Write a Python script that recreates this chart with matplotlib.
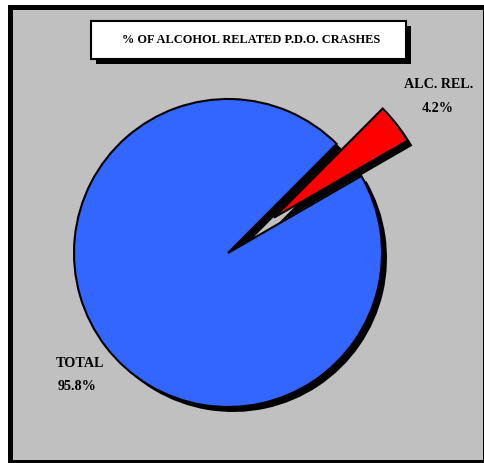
import matplotlib
matplotlib.use("Agg")
import matplotlib.pyplot as plt
from matplotlib.patches import Rectangle

# data
labels = ["ALC. REL.", "TOTAL"]
values = [4.2, 95.8]
colors = ["#ff0000", "#3366ff"]
title = "% OF ALCOHOL RELATED P.D.O. CRASHES"

W, H = 484, 463
plt.rcParams['font.family'] = ['Liberation Serif', 'DejaVu Serif']

fig = plt.figure(figsize=(W / 100, H / 100), dpi=100)
fig.patch.set_facecolor("white")
ax = fig.add_axes([0, 0, 1, 1])

# panel with black frame
ax.add_patch(Rectangle((8, 0), W - 8, H - 5, facecolor="black", edgecolor="none", zorder=0))
ax.add_patch(Rectangle((12.7, 3.3), W - 12.7 - 1.5, H - 10 - 3.3, facecolor="#c0c0c0",
                       edgecolor="none", zorder=1))

# pie, with a black copy as shadow
cx, cy, r = 228, H - 253, 154
off = 5
expl = [58, 0]
ax.pie(values, colors=["black", "black"], startangle=30, counterclock=True,
       explode=expl, radius=r, center=(cx + off, cy - off),
       wedgeprops=dict(linewidth=0, zorder=2), frame=True)
wedges, _ = ax.pie(values, colors=colors, startangle=30, counterclock=True,
                   explode=expl, radius=r, center=(cx, cy),
                   wedgeprops=dict(edgecolor="black", linewidth=1.5, zorder=3), frame=True)
for w in wedges:
    w.set_zorder(3)

# title box
ax.add_patch(Rectangle((90.7 + off, H - 59.3 - off), 315, 38.6, facecolor="black",
                       edgecolor="none", zorder=4))
ax.add_patch(Rectangle((90.7, H - 59.3), 315, 38.6, facecolor="white",
                       edgecolor="black", linewidth=1.5, zorder=5))
ax.text(251.5, H - 40, title, ha="center", va="center", fontsize=8.9,
        fontweight="bold", zorder=6)

# labels
ax.text(438.5, H - 84, labels[0], ha="center", va="center", fontsize=10.2, fontweight="bold", zorder=6)
ax.text(437.5, H - 108, "%.1f%%" % values[0], ha="center", va="center", fontsize=10.2,
        fontweight="bold", zorder=6)
ax.text(80, H - 363.5, labels[1], ha="center", va="center", fontsize=10.2, fontweight="bold", zorder=6)
ax.text(77.5, H - 386.5, "%.1f%%" % values[1], ha="center", va="center", fontsize=10.2,
        fontweight="bold", zorder=6)

ax.set_xlim(0, W)
ax.set_ylim(0, H)
ax.set_aspect("auto")
ax.axis("off")

fig.savefig("out.png", dpi=100, facecolor="white")
